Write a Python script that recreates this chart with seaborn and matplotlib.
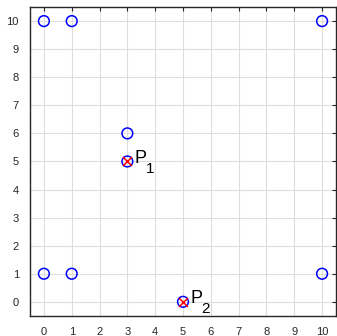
import numpy as np
import pandas as pd
import matplotlib
matplotlib.use('Agg')
import matplotlib.pyplot as plt
import seaborn as sns

# points (blue circles)
pts_x = [0, 1, 10, 3, 3, 0, 1, 10, 5]
pts_y = [10, 10, 10, 6, 5, 1, 1, 1, 0]
# marked points (red x) and their labels
sel_x = [3, 5]
sel_y = [5, 0]
sel_lab = ['P', 'P']
sel_sub = ['1', '2']
ticks = list(range(0, 11))

sns.set_style('whitegrid')
plt.rcParams['font.family'] = ['Liberation Sans', 'DejaVu Sans']

df = pd.DataFrame({'x': pts_x, 'y': pts_y})
sel = pd.DataFrame({'x': sel_x, 'y': sel_y, 'lab': sel_lab, 'sub': sel_sub})

fig = plt.figure(figsize=(3.37, 3.36), dpi=100)
ax = fig.add_axes([0.089, 0.06, 0.908, 0.919])

sns.scatterplot(data=df, x='x', y='y', ax=ax, marker='o', s=60,
                facecolor='none', edgecolor='#0000ff', linewidth=1.1, zorder=3)
sns.scatterplot(data=sel, x='x', y='y', ax=ax, marker='x', s=40,
                color='#ff0000', linewidth=1.1, zorder=4)
for _, r in sel.iterrows():
    # main letter and a dropped subscript, like MATLAB's P_1
    ax.text(r['x'] + 0.27, r['y'] + 0.12, r['lab'], fontsize=13,
            va='center', ha='left', color='black', zorder=5)
    ax.text(r['x'] + 0.66, r['y'] - 0.26, r['sub'], fontsize=11,
            va='center', ha='left', color='black', zorder=5)

ax.set_xlim(-0.5, 10.5)
ax.set_ylim(-0.5, 10.5)
ax.set_xticks(ticks)
ax.set_yticks(ticks)
ax.set_xlabel('')
ax.set_ylabel('')
ax.grid(True, color='#dddddd', linewidth=0.8)
for s in ax.spines.values():
    s.set_visible(True)
    s.set_color('#262626')
    s.set_linewidth(1.0)
ax.tick_params(direction='in', length=3, width=0.8, colors='#262626',
               labelsize=8, top=True, right=True, labelcolor='#262626', pad=8)

fig.savefig('out.png', dpi=100)
